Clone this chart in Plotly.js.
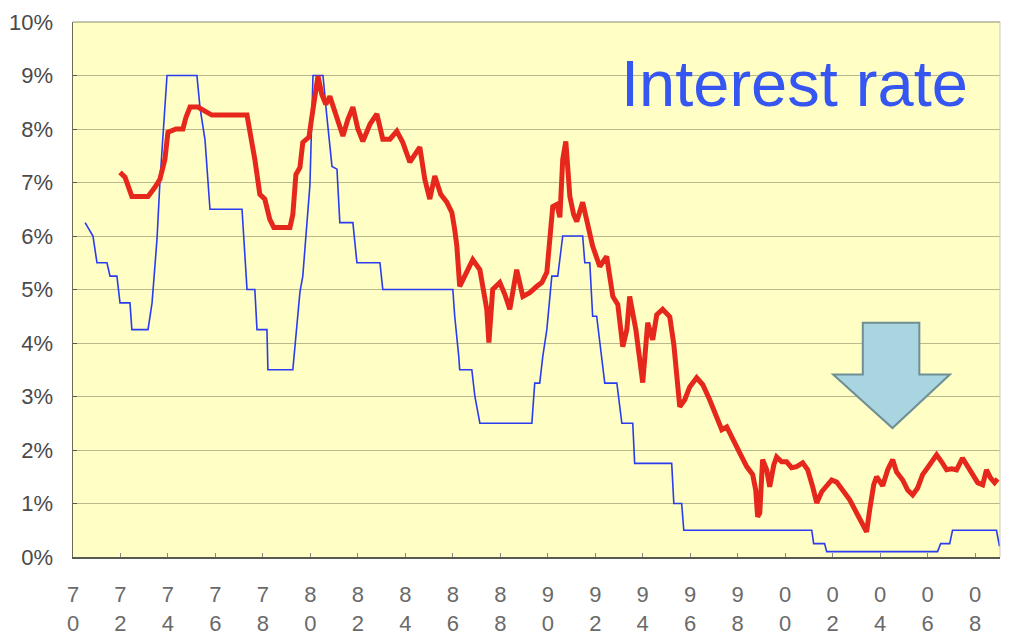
<!DOCTYPE html>
<html>
<head>
<meta charset="utf-8">
<script src="https://cdn.plot.ly/plotly-3.0.1.min.js"></script>
<style>
  html, body { margin: 0; padding: 0; background: #ffffff; }
  #chart { width: 1012px; height: 644px; }
</style>
</head>
<body>
<div id="chart"></div>
<script>
// Long-term bond yield (%), by decimal year
const bondYears = [
  1971.98, 1972.19, 1972.48, 1973.16, 1973.45, 1973.66, 1973.87, 1974.00, 1974.34, 1974.63,
  1974.76, 1974.93, 1975.26, 1975.56, 1975.85, 1977.33, 1977.45, 1977.66, 1977.87, 1978.08,
  1978.29, 1978.46, 1979.14, 1979.26, 1979.39, 1979.56, 1979.68, 1979.94, 1980.11, 1980.32,
  1980.48, 1980.65, 1980.82, 1981.12, 1981.37, 1981.58, 1981.79, 1982.00, 1982.21, 1982.51,
  1982.80, 1983.05, 1983.35, 1983.64, 1983.89, 1984.19, 1984.40, 1984.61, 1984.82, 1985.03,
  1985.24, 1985.49, 1985.75, 1985.96, 1986.08, 1986.17, 1986.29, 1986.55, 1986.84, 1987.14,
  1987.31, 1987.43, 1987.52, 1987.68, 1987.98, 1988.19, 1988.40, 1988.57, 1988.69, 1988.95,
  1989.24, 1989.54, 1989.75, 1989.96, 1990.08, 1990.21, 1990.38, 1990.51, 1990.63, 1990.76,
  1990.93, 1991.09, 1991.22, 1991.47, 1991.68, 1991.89, 1992.19, 1992.48, 1992.74, 1992.95,
  1993.16, 1993.33, 1993.45, 1993.71, 1994.00, 1994.21, 1994.42, 1994.59, 1994.84, 1995.14,
  1995.31, 1995.43, 1995.56, 1995.77, 1995.98, 1996.27, 1996.53, 1996.82, 1997.12, 1997.33,
  1997.54, 1997.79, 1998.08, 1998.38, 1998.63, 1998.76, 1998.84, 1998.93, 1999.05, 1999.22,
  1999.35, 1999.52, 1999.64, 1999.85, 2000.06, 2000.27, 2000.48, 2000.74, 2000.95, 2001.16,
  2001.33, 2001.54, 2001.75, 2001.96, 2002.17, 2002.42, 2002.72, 2003.05, 2003.26, 2003.43,
  2003.56, 2003.73, 2003.85, 2003.98, 2004.11, 2004.32, 2004.53, 2004.69, 2004.95, 2005.16,
  2005.37, 2005.58, 2005.79, 2006.08, 2006.38, 2006.59, 2006.80, 2007.01, 2007.22, 2007.47,
  2007.64, 2007.89, 2008.11, 2008.32, 2008.48, 2008.65, 2008.82, 2008.95
];
const bondRates = [
  7.19, 7.10, 6.74, 6.74, 6.91, 7.06, 7.43, 7.94, 8.00, 8.00,
  8.22, 8.41, 8.41, 8.33, 8.26, 8.26, 8.00, 7.43, 6.78, 6.69,
  6.31, 6.16, 6.16, 6.40, 7.15, 7.28, 7.75, 7.85, 8.37, 8.99,
  8.65, 8.46, 8.61, 8.24, 7.87, 8.18, 8.41, 8.00, 7.77, 8.09,
  8.28, 7.81, 7.81, 7.96, 7.75, 7.38, 7.53, 7.66, 7.06, 6.69,
  7.12, 6.78, 6.63, 6.44, 6.12, 5.81, 5.06, 5.28, 5.56, 5.37,
  5.00, 4.63, 4.01, 5.00, 5.13, 4.91, 4.63, 5.09, 5.37, 4.87,
  4.94, 5.06, 5.13, 5.32, 5.94, 6.55, 6.59, 6.35, 7.43, 7.77,
  6.74, 6.40, 6.27, 6.63, 6.22, 5.81, 5.43, 5.62, 4.87, 4.72,
  3.93, 4.25, 4.87, 4.25, 3.26, 4.38, 4.06, 4.53, 4.63, 4.49,
  3.97, 3.45, 2.81, 2.94, 3.18, 3.35, 3.22, 2.94, 2.57, 2.38,
  2.43, 2.19, 1.95, 1.69, 1.54, 1.25, 0.75, 0.82, 1.82, 1.63,
  1.31, 1.72, 1.87, 1.78, 1.78, 1.67, 1.69, 1.76, 1.63, 1.31,
  1.01, 1.22, 1.35, 1.44, 1.40, 1.25, 1.07, 0.79, 0.60, 0.47,
  0.88, 1.35, 1.50, 1.40, 1.33, 1.63, 1.82, 1.59, 1.44, 1.25,
  1.16, 1.29, 1.54, 1.72, 1.91, 1.78, 1.63, 1.65, 1.63, 1.85,
  1.72, 1.57, 1.39, 1.35, 1.63, 1.48, 1.39, 1.46
];

// Policy rate (%), by decimal year
const policyYears = [
  1970.51, 1970.84, 1971.01, 1971.43, 1971.56, 1971.85, 1971.98, 1972.40, 1972.48, 1973.16,
  1973.33, 1973.54, 1973.66, 1973.96, 1975.22, 1975.35, 1975.56, 1975.77, 1977.12, 1977.24,
  1977.33, 1977.66, 1977.75, 1978.17, 1978.21, 1979.26, 1979.43, 1979.56, 1979.68, 1979.85,
  1979.98, 1980.11, 1980.53, 1980.69, 1980.91, 1981.12, 1981.24, 1981.79, 1981.96, 1982.93,
  1983.05, 1986.00, 1986.08, 1986.25, 1986.29, 1986.80, 1986.93, 1987.14, 1989.33, 1989.45,
  1989.66, 1989.79, 1989.96, 1990.17, 1990.42, 1990.63, 1991.47, 1991.56, 1991.77, 1991.89,
  1992.06, 1992.40, 1992.91, 1993.12, 1993.58, 1993.66, 1995.22, 1995.31, 1995.64, 1995.73,
  2001.12, 2001.20, 2001.66, 2001.75, 2006.42, 2006.55, 2006.93, 2007.05, 2008.90, 2009.03
];
const policyRates = [
  6.25, 6.00, 5.50, 5.50, 5.25, 5.25, 4.75, 4.75, 4.25, 4.25,
  4.75, 5.95, 7.00, 9.00, 9.00, 8.40, 7.80, 6.50, 6.50, 5.50,
  5.00, 5.00, 4.25, 4.25, 3.50, 3.50, 4.25, 4.95, 5.25, 6.20,
  6.95, 9.00, 9.00, 8.25, 7.30, 7.25, 6.25, 6.25, 5.50, 5.50,
  5.00, 5.00, 4.50, 3.75, 3.50, 3.50, 3.00, 2.50, 2.50, 3.25,
  3.25, 3.75, 4.25, 5.25, 5.25, 6.00, 6.00, 5.50, 5.50, 4.50,
  4.50, 3.25, 3.25, 2.50, 2.50, 1.75, 1.75, 1.00, 1.00, 0.50,
  0.50, 0.25, 0.25, 0.10, 0.10, 0.25, 0.25, 0.50, 0.50, 0.20
];

// Axis ticks
const xTickYears = [1970, 1972, 1974, 1976, 1978, 1980, 1982, 1984, 1986, 1988,
                    1990, 1992, 1994, 1996, 1998, 2000, 2002, 2004, 2006, 2008];
const xTickText = ['7<br>0', '7<br>2', '7<br>4', '7<br>6', '7<br>8', '8<br>0', '8<br>2', '8<br>4', '8<br>6', '8<br>8',
                   '9<br>0', '9<br>2', '9<br>4', '9<br>6', '9<br>8', '0<br>0', '0<br>2', '0<br>4', '0<br>6', '0<br>8'];
const yTickVals = [0, 1, 2, 3, 4, 5, 6, 7, 8, 9, 10];
const yTickText = ['0%', '1%', '2%', '3%', '4%', '5%', '6%', '7%', '8%', '9%', '10%'];

const traces = [
  {
    x: policyYears, y: policyRates, type: 'scatter', mode: 'lines',
    line: { color: '#2a3cf0', width: 1.6 },
    hoverinfo: 'skip', showlegend: false
  },
  {
    x: bondYears, y: bondRates, type: 'scatter', mode: 'lines',
    line: { color: '#e6281c', width: 5, shape: 'linear' },
    hoverinfo: 'skip', showlegend: false
  }
];

// Down arrow outline (paper coordinates)
const arrowPath = 'M 0.852 0.438 L 0.913 0.438 L 0.913 0.341 L 0.946 0.341 ' +
                  'L 0.884 0.241 L 0.820 0.341 L 0.852 0.341 Z';

const layout = {
  width: 1012, height: 644,
  margin: { l: 73, r: 12, t: 22, b: 87 },
  paper_bgcolor: '#ffffff',
  plot_bgcolor: '#fffec4',
  font: { family: 'Liberation Sans, Arial, sans-serif', color: '#555' },
  xaxis: {
    range: [1970, 2009.05], fixedrange: true,
    tickmode: 'array', tickvals: xTickYears, ticktext: xTickText,
    tickfont: { size: 22, color: '#6a6a6a' },
    ticks: 'inside', ticklen: 4, tickcolor: '#888',
    showgrid: false, zeroline: false,
    showline: true, linecolor: '#5a5a50', linewidth: 2,
    ticklabelstandoff: 17
  },
  yaxis: {
    range: [0, 10], fixedrange: true,
    tickmode: 'array', tickvals: yTickVals, ticktext: yTickText,
    tickfont: { size: 22, color: '#4a4a4a' },
    ticks: 'inside', ticklen: 4, tickcolor: '#555',
    showgrid: true, gridcolor: 'rgba(115,115,85,0.5)', gridwidth: 1,
    zeroline: false,
    showline: true, linecolor: '#6a6a5a', linewidth: 1.5,
    ticklabelstandoff: 14
  },
  shapes: [
    { type: 'line', xref: 'paper', yref: 'paper', x0: 0, x1: 1, y0: 1, y1: 1,
      line: { color: '#8a8a70', width: 1 } },
    { type: 'line', xref: 'paper', yref: 'paper', x0: 1, x1: 1, y0: 0, y1: 1,
      line: { color: '#c8c8c0', width: 1 } },
    { type: 'path', xref: 'paper', yref: 'paper', path: arrowPath,
      fillcolor: '#a9d5e0', line: { color: '#6f8f94', width: 2 } }
  ],
  annotations: [
    { text: 'Interest rate', xref: 'paper', yref: 'paper', x: 0.778, y: 0.885,
      xanchor: 'center', yanchor: 'middle', showarrow: false,
      font: { family: 'Liberation Sans, Arial, sans-serif', size: 65, color: '#3656f2' } }
  ]
};

Plotly.newPlot('chart', traces, layout, { staticPlot: true, displayModeBar: false });
</script>
</body>
</html>
